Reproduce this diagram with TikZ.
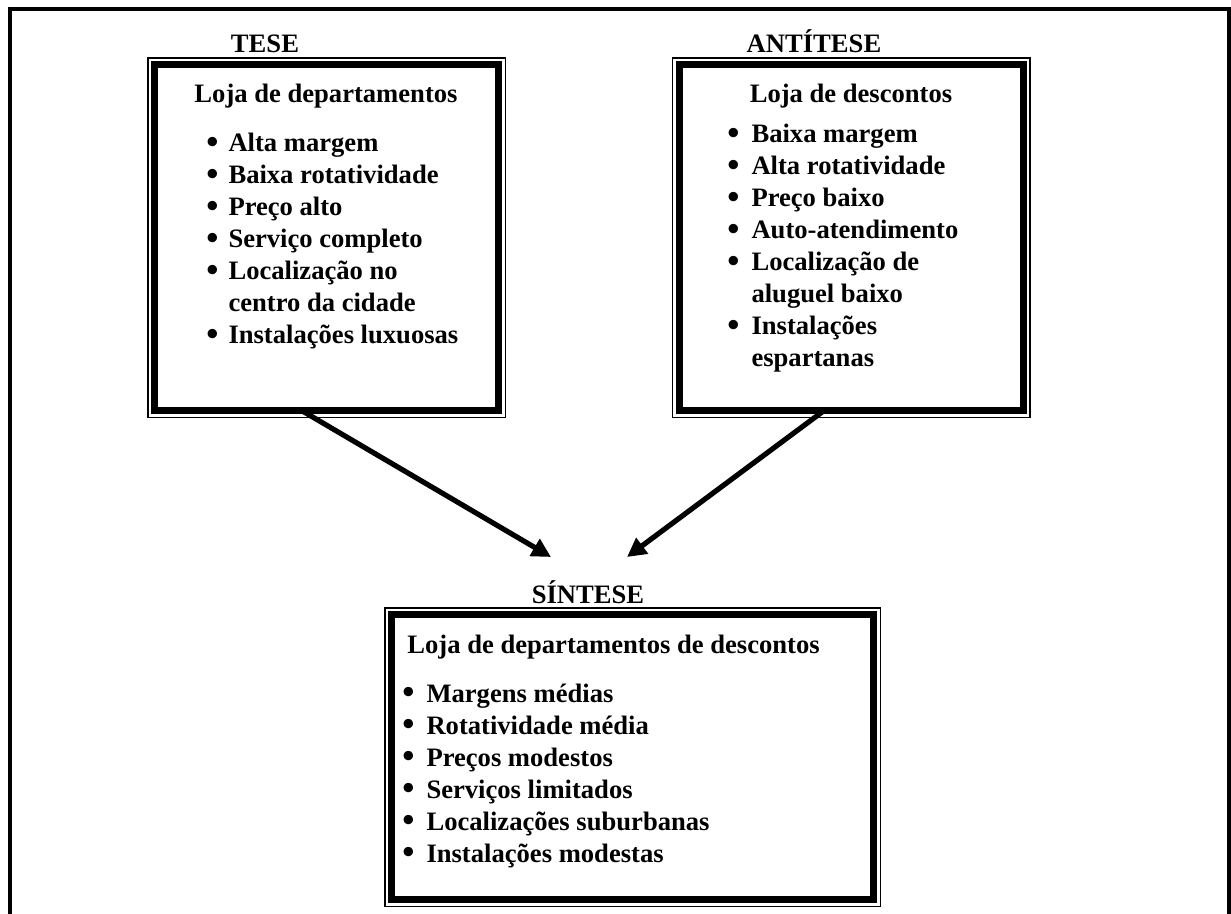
\documentclass[tikz,border=0pt]{standalone}
\usepackage{fontspec}
\setmainfont{Liberation Serif}
\usetikzlibrary{arrows.meta,calc}
\newcommand\bodyfnt{\fontsize{13.3pt}{16pt}\selectfont\bfseries}
\newcommand\bul{\raisebox{-0.06em}{\scalebox{1.3}{\textbullet}}}
\begin{document}
\begin{tikzpicture}[x=0.5pt,y=-0.5pt,
  dbox/.style={rectangle, draw=black, line width=3.5pt, fill=white,
    inner sep=0pt, outer sep=0pt,
    preaction={draw=black, line width=7.5pt},
    preaction={draw=white, line width=6pt}},
  ttl/.style={font=\bodyfnt, inner sep=0pt, anchor=base},
  hdr/.style={font=\bodyfnt, inner sep=0pt},
  lst/.style={font=\bodyfnt, inner sep=0pt, anchor=base west, align=left},
  conn/.style={line width=2.6pt, -{Triangle[length=9.5pt,width=9.5pt]}}]
\useasboundingbox (0,0) rectangle (1231,914);
\clip (0,0) rectangle (1231,914);
\fill[white] (0,0) rectangle (1231,914);
% outer frame (open at the bottom)
\draw[line width=2pt] (10,940) -- (10,9) -- (1229,9) -- (1229,940);

% boxes
\node[dbox, minimum width=172pt, minimum height=173pt] (tese) at (326.5,238) {};
\node[dbox, minimum width=172pt, minimum height=173pt] (anti) at (851,238) {};
\node[dbox, minimum width=241pt, minimum height=142.5pt] (sint) at (632.5,757) {};

% titles
\node[ttl] (teseT) at (265,53) {TESE};
\node[ttl] (antiT) at (814,53) {ANTÍTESE};
\node[ttl] (sintT) at (588,603) {SÍNTESE};

% headers
\node[hdr, anchor=base] (teseH) at (326,103) {Loja de departamentos};
\node[hdr, anchor=base] (antiH) at (851,103) {Loja de descontos};
\node[hdr, anchor=base west] (sintH) at (407,653) {Loja de departamentos de descontos};

% lists
\node[lst] (teseL) at (206,152) {\begin{tabular}[t]{@{}l@{\hspace{5pt}}l@{}}
\bul & Alta margem\\
\bul & Baixa rotatividade\\
\bul & Preço alto\\
\bul & Serviço completo\\
\bul & Localização no\\
 & centro da cidade\\
\bul & Instalações luxuosas
\end{tabular}};
\node[lst] (antiL) at (727,143) {\begin{tabular}[t]{@{}l@{\hspace{6pt}}l@{}}
\bul & Baixa margem\\
\bul & Alta rotatividade\\
\bul & Preço baixo\\
\bul & Auto-atendimento\\
\bul & Localização de\\
 & aluguel baixo\\
\bul & Instalações\\
 & espartanas
\end{tabular}};
\node[lst] (sintL) at (402,702) {\begin{tabular}[t]{@{}l@{\hspace{6pt}}l@{}}
\bul & Margens médias\\
\bul & Rotatividade média\\
\bul & Preços modestos\\
\bul & Serviços limitados\\
\bul & Localizações suburbanas\\
\bul & Instalações modestas
\end{tabular}};

% connectors
\coordinate (tipL) at (551,557);
\coordinate (tipR) at (627,557);
\draw[conn] ($(tese.south west)!0.43!(tese.south east)$) -- (tipL);
\draw[conn] ($(anti.south west)!0.42!(anti.south east)$) -- (tipR);
\end{tikzpicture}
\end{document}
